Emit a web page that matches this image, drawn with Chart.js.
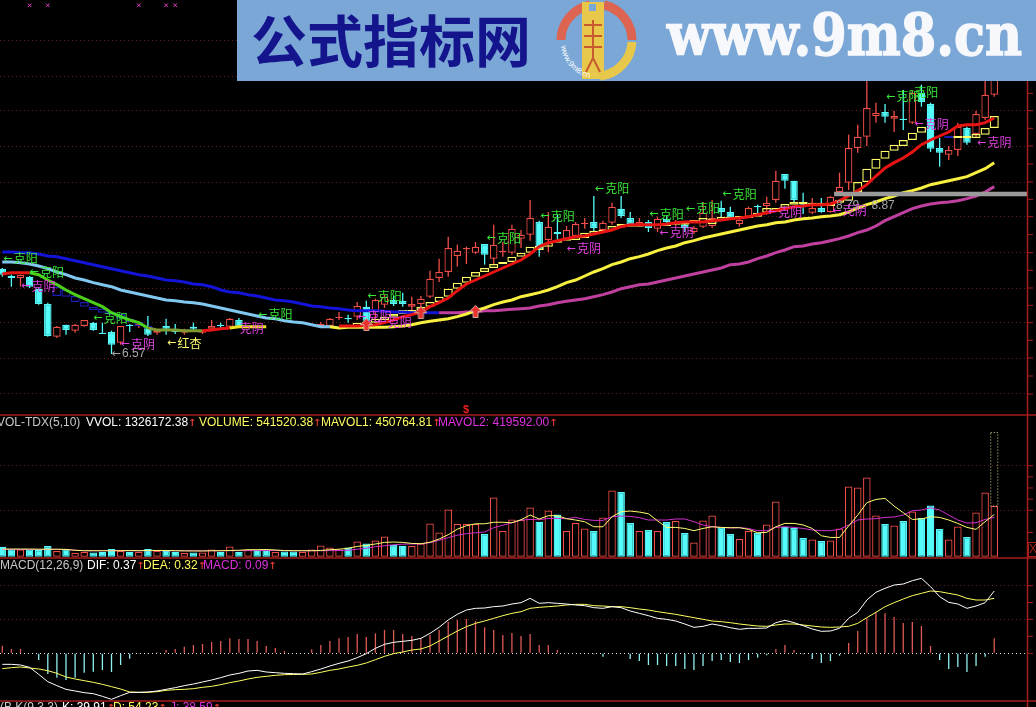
<!DOCTYPE html>
<html>
<head>
<meta charset="utf-8">
<title>9m8</title>
<script src="https://cdn.jsdelivr.net/npm/chart.js@4"></script>
<style>
html, body { margin: 0; padding: 0; background: #000; overflow: hidden; }
#wrap { position: relative; width: 1036px; height: 707px; }
#board { position: absolute; left: 0; top: 0; }
#banner { position: absolute; left: 237px; top: 0; width: 799px; height: 81px; background: #7ba7d7; }
</style>
</head>
<body>
<div id="wrap">
  <canvas id="board" width="1036" height="707"></canvas>
  <svg id="banner" viewBox="237 0 799 81" width="799" height="81">
    <text x="251" y="62" font-family="Noto Sans CJK SC" font-weight="700" font-size="56" fill="#14148c" textLength="280">公式指标网</text>
    <path d="M561 40 A36 36 0 0 1 590 5" fill="none" stroke="#dc6450" stroke-width="9"/>
    <path d="M604 5 A36 36 0 0 1 632 40" fill="none" stroke="#dc6450" stroke-width="9"/>
    <path d="M632 42 A36 36 0 0 1 600 76" fill="none" stroke="#e8c84a" stroke-width="9"/>
    <rect x="582" y="2" width="22" height="77" fill="#e8c84a"/>
    <rect x="589" y="4" width="7" height="7" fill="#7ba7d7"/>
    <path d="M584 25H602M584 36H602M584 47H602M593 20V60M586 72L593 58L600 72" stroke="#c85a30" stroke-width="2" fill="none"/>
    <path id="ringPath" d="M561 46 A37 37 0 0 0 590 78" fill="none"/>
    <text font-family="Liberation Sans" font-size="8" fill="#fff"><textPath href="#ringPath">www.9m8.cn</textPath></text>
    <text x="667" y="55" font-family="DejaVu Serif" font-weight="700" font-size="57" fill="#f6f8fb" stroke="#f6f8fb" stroke-width="1.5" textLength="355" lengthAdjust="spacingAndGlyphs">www.9m8.cn</text>
  </svg>
</div>
<script>
// -------------------------
// Price panel data (one entry per session, null where the picture shows no candle)
// -------------------------
const opens = [
  7.85,7.74,7.71,7.73,7.55,7.32,6.83,7.01,6.92,6.99,
  7.04,6.89,6.90,6.74,7.01,7.00,6.98,6.89,6.99,6.95,
  6.89,6.98,6.89,6.95,7.01,6.98,7.08,null,null,null,
  null,null,null,null,null,6.99,6.99,7.11,7.11,7.13,
  7.28,7.20,7.31,7.38,7.37,7.28,7.32,7.43,7.71,7.80,
  8.04,8.14,8.09,8.22,8.00,8.10,8.09,8.30,8.36,8.55,
  8.28,8.40,8.30,8.34,8.52,8.55,8.43,8.54,8.75,8.61,
  8.51,8.55,8.45,8.60,8.52,8.51,8.40,8.48,8.49,8.76,
  8.70,8.52,8.63,8.79,8.79,8.88,9.27,9.17,8.85,8.69,
  8.76,8.70,9.00,9.14,9.66,9.83,10.14,10.20,10.10,10.10,
  10.04,10.49,10.32,9.66,9.56,9.63,9.96,9.87,10.11,10.46
];
const closes = [
  7.76,7.71,7.76,7.58,7.32,6.84,6.98,6.93,7.01,7.08,
  6.93,6.87,6.71,6.99,6.99,7.02,6.86,6.92,6.95,6.90,
  6.92,6.95,6.92,6.99,6.99,7.10,6.98,null,null,null,
  null,null,null,null,null,7.02,7.10,7.13,7.09,7.29,
  7.07,7.38,7.43,7.32,7.32,7.32,7.40,7.70,7.80,8.16,
  8.12,8.16,8.18,8.06,8.21,8.12,8.45,8.36,8.61,8.13,
  8.48,8.37,8.43,8.52,8.54,8.46,8.54,8.78,8.64,8.52,
  8.55,8.46,8.60,8.55,8.55,8.46,8.46,8.69,8.61,8.70,
  8.61,8.58,8.76,8.77,8.84,9.17,9.17,8.88,8.81,8.76,
  8.70,8.93,9.08,9.66,9.83,10.26,10.19,10.13,10.14,10.08,
  10.49,10.35,9.65,9.59,9.63,9.98,9.74,10.17,10.46,10.98
];
const highs = [
  7.86,7.76,7.76,7.74,7.56,7.34,6.99,7.01,7.02,7.08,
  7.05,7.04,6.92,6.99,7.02,7.05,7.14,6.93,7.10,7.02,
  6.95,7.04,6.93,7.08,7.04,7.11,7.11,null,null,null,
  null,null,null,null,null,7.05,7.11,7.20,7.16,7.35,
  7.37,7.40,7.46,7.44,7.49,7.43,7.44,7.82,8.00,8.33,
  8.21,8.18,8.25,8.22,8.51,8.25,8.51,8.43,8.88,8.57,
  8.70,8.66,8.49,8.55,8.61,8.94,8.57,8.84,8.94,8.70,
  8.61,8.58,8.63,8.64,8.58,8.55,8.49,8.85,8.88,8.87,
  8.78,8.60,8.78,8.81,8.93,9.32,9.27,9.17,8.99,8.91,
  8.91,8.94,9.29,9.86,10.01,10.67,10.34,10.32,10.22,10.53,
  10.52,10.61,10.34,9.81,9.69,10.04,9.98,10.22,10.67,11.13
];
const lows = [
  7.73,7.58,7.58,7.56,7.31,6.83,6.81,6.86,6.89,6.98,
  6.92,6.87,6.57,6.71,6.90,6.96,6.84,6.86,6.86,6.87,
  6.86,6.93,6.87,6.93,6.93,6.96,6.96,null,null,null,
  null,null,null,null,null,6.98,6.98,7.08,7.04,7.08,
  7.01,7.04,7.26,7.29,7.28,7.20,7.23,7.41,7.65,7.73,
  7.88,7.92,8.07,7.91,7.91,8.03,8.06,8.16,8.27,8.03,
  8.10,8.28,8.28,8.31,8.45,8.40,8.42,8.51,8.61,8.49,
  8.48,8.40,8.40,8.51,8.49,8.40,8.37,8.46,8.46,8.61,
  8.60,8.48,8.61,8.66,8.66,8.84,9.05,8.84,8.67,8.67,
  8.69,8.69,8.96,9.03,9.59,9.69,10.04,10.04,9.90,9.93,
  10.02,10.28,9.60,9.38,9.48,9.54,9.71,9.83,10.08,10.43
];
// ladder boxes
const stepHigh = [
  null,null,null,null,null,null,7.58,7.53,7.44,7.35,
  7.28,7.25,7.20,7.17,7.10,7.05,6.99,null,null,null,
  null,null,null,null,null,null,null,null,null,null,
  null,null,null,null,null,null,null,null,7.01,7.04,
  7.05,7.10,7.13,7.17,7.23,7.23,7.28,7.35,7.43,7.55,
  7.64,7.73,7.80,7.86,7.92,7.95,8.03,8.09,8.18,8.19,
  8.24,8.27,8.30,8.33,8.39,8.42,8.43,8.49,8.52,8.52,
  8.52,8.52,8.52,8.52,8.54,8.54,8.58,8.61,8.60,8.63,
  8.63,8.64,8.64,8.69,8.76,8.76,8.82,8.85,8.85,8.84,
  8.84,8.84,8.88,9.00,9.15,9.35,9.50,9.62,9.71,9.78,
  9.89,9.98,null,null,9.84,9.84,9.84,9.87,9.96,10.14
];
const stepLow = [
  null,null,null,null,null,null,7.44,7.43,7.35,7.28,
  7.23,7.19,7.16,7.10,7.05,6.99,6.95,null,null,null,
  null,null,null,null,null,null,null,null,null,null,
  null,null,null,null,null,null,null,null,6.98,6.98,
  7.01,7.04,7.08,7.13,7.17,7.19,7.23,7.28,7.35,7.43,
  7.55,7.64,7.73,7.80,7.86,7.92,7.95,8.03,8.09,8.13,
  8.18,8.24,8.27,8.28,8.31,8.37,8.40,8.43,8.48,8.48,
  8.48,8.49,8.49,8.49,8.51,8.51,8.54,8.54,8.52,8.58,
  8.60,8.60,8.61,8.63,8.69,8.70,8.76,8.81,8.82,8.79,
  8.81,8.79,8.84,8.87,9.00,9.15,9.35,9.50,9.62,9.69,
  9.78,9.89,null,null,9.81,9.81,9.81,9.81,9.86,9.96
];
const fastLine = [
  7.77,7.79,7.79,7.79,7.76,7.68,7.61,7.53,7.46,7.40,
  7.34,7.28,7.19,7.13,7.08,7.04,6.96,6.93,6.93,6.93,
  6.92,6.92,6.92,6.93,6.95,6.96,6.98,6.98,6.98,6.98,
  null,null,null,null,null,null,null,6.99,6.99,6.99,
  7.00,7.01,7.04,7.08,7.13,7.16,7.20,7.28,7.34,7.41,
  7.52,7.62,7.68,7.74,7.80,7.86,7.92,7.98,8.07,8.18,
  8.24,8.27,8.30,8.33,8.34,8.37,8.40,8.43,8.48,8.51,
  8.51,8.51,8.51,8.52,8.54,8.55,8.55,8.55,8.57,8.58,
  8.60,8.61,8.63,8.66,8.69,8.72,8.75,8.78,8.79,8.81,
  8.81,8.82,8.87,8.94,9.02,9.11,9.24,9.36,9.44,9.51,
  9.60,9.71,9.78,9.84,9.90,9.99,10.01,10.01,10.04,10.11
];
const midLine = [
  7.95,7.95,7.94,7.92,7.89,7.85,7.80,7.76,7.71,7.68,
  7.64,7.61,7.58,7.53,7.50,7.47,7.44,7.41,7.38,7.37,
  7.35,7.34,7.32,7.29,7.26,7.23,7.20,7.17,7.14,7.11,
  7.10,7.07,7.05,7.04,7.01,6.98,6.98,6.96,6.97,6.97,
  6.97,6.97,6.97,6.98,6.99,7.01,7.04,7.06,7.08,7.10,
  7.13,7.17,7.22,7.26,7.31,7.35,7.38,7.43,7.46,7.49,
  7.53,7.58,7.64,7.68,7.74,7.80,7.85,7.91,7.95,8.00,
  8.03,8.07,8.12,8.16,8.19,8.24,8.27,8.31,8.34,8.37,
  8.40,8.43,8.46,8.49,8.51,8.54,8.55,8.58,8.60,8.61,
  8.63,8.64,8.66,8.70,8.76,8.81,8.85,8.90,8.94,8.99,
  9.02,9.06,9.11,9.14,9.17,9.20,9.23,9.29,9.35,9.44
];
const longLine = [
  8.10,8.10,8.09,8.09,8.07,8.04,8.03,8.00,7.97,7.94,
  7.91,7.88,7.85,7.82,7.79,7.76,7.74,7.71,7.68,7.67,
  7.65,7.62,7.61,7.58,7.53,7.50,7.49,7.46,7.44,7.41,
  7.38,7.37,7.35,7.32,7.29,7.28,7.26,7.25,7.23,7.22,
  7.22,7.22,7.21,7.20,7.20,7.19,7.19,7.19,7.19,7.19,
  7.19,7.20,7.20,7.22,7.22,7.23,7.24,7.25,7.26,7.29,
  7.31,7.34,7.36,7.38,7.40,7.43,7.46,7.50,7.55,7.58,
  7.61,7.62,7.65,7.68,7.71,7.74,7.77,7.80,7.83,7.86,
  7.91,7.92,7.95,8.00,8.04,8.09,8.13,8.18,8.19,8.22,
  8.24,8.27,8.30,8.34,8.39,8.43,8.49,8.57,8.63,8.69,
  8.75,8.79,8.82,8.84,8.85,8.87,8.90,8.94,9.00,9.08
];
const priceGrid = [5.97,6.51,7.04,7.56,8.09,8.63,9.15,9.69,10.22,10.74,11.28];
const bandPrice = 8.97;
const bandFrom = 91.4;
const arrowSessions = [40,46,52];
const arrowPrices = [7.01,7.19,7.21];
const crossSessions = [3,5,15,18,19];
const crossPrice = 11.8;
const gapDownSessions = [28,29,31,32];   // candles missing in the picture, colour taken from the volume bars
const navySessions = [6,7,8,9,10,11,12,13,14,15,16,104];

// -------------------------
// Volume panel data, in units of 10000
// -------------------------
const volumes = [
  10.7,8.2,7.8,7.8,7.2,11.4,6.1,8.2,4.3,5.0,
  4.6,5.3,8.2,6.1,5.3,5.3,8.2,6.4,6.4,5.3,
  4.0,4.6,4.6,7.8,5.3,11.0,5.3,7.5,7.5,7.5,
  5.0,5.7,5.7,5.3,7.8,12.1,9.9,7.8,9.9,16.3,
  14.2,17.4,21.7,12.5,11.7,11.4,14.2,35.6,26.0,50.5,
  34.9,34.9,34.9,24.2,63.3,27.4,39.8,39.2,52.7,37.4,
  49.4,45.2,27.4,36.0,30.2,27.4,42.0,70.8,69.1,36.0,
  27.4,28.5,27.4,37.1,38.1,25.3,15.3,38.8,44.1,31.3,
  24.2,18.9,27.4,25.3,34.5,59.1,32.0,30.7,20.0,18.5,
  16.8,17.4,30.2,75.1,74.0,84.7,44.1,34.9,33.4,38.1,
  48.4,41.3,54.8,29.6,18.5,32.4,21.0,47.3,68.7,54.15
];
const mavol1 = [
  8.2,8.2,8.2,8.2,8.0,8.0,8.0,7.8,6.9,6.4,
  6.4,6.4,6.4,6.4,6.6,6.4,6.7,6.7,6.7,6.4,
  6.2,6.2,6.1,6.4,6.4,6.7,6.9,7.5,7.5,7.7,
  7.2,6.6,6.4,6.4,6.4,6.7,7.5,8.0,9.1,11.0,
  12.1,13.6,15.3,15.7,15.3,14.2,13.9,15.5,18.9,23.5,
  29.4,33.1,35.2,35.2,36.8,36.8,36.3,39.5,44.5,40.3,
  43.8,43.8,40.6,39.2,37.4,32.0,32.0,42.7,48.1,48.8,
  47.7,45.9,38.4,31.3,31.3,30.2,27.8,30.2,32.0,31.3,
  31.0,31.0,29.2,25.6,26.0,32.0,35.6,35.6,33.9,30.2,
  22.4,20.6,20.6,32.8,44.5,57.7,61.2,62.3,54.1,47.0,
  39.8,40.3,42.7,42.0,39.2,35.6,31.3,29.2,37.4,45.08
];
const mavol2 = [
  7.8,7.8,7.8,7.8,7.8,7.8,7.8,7.8,6.9,6.4,
  6.4,6.4,6.5,6.5,6.4,6.4,6.5,6.5,6.4,6.4,
  6.4,6.3,6.3,6.4,6.4,6.4,6.5,6.5,6.6,6.6,
  6.6,6.5,6.5,6.4,6.4,6.4,6.5,6.6,6.9,8.0,
  9.1,10.7,11.7,12.8,13.4,13.6,13.6,15.0,17.6,20.3,
  23.0,24.6,25.6,26.4,31.0,33.6,36.3,39.2,39.8,39.5,
  40.9,40.9,40.6,42.0,39.8,38.8,38.8,42.7,43.5,43.0,
  41.7,39.2,39.2,39.2,40.3,40.3,37.4,33.9,32.0,31.3,
  30.7,31.0,30.2,27.8,27.8,31.3,32.0,31.3,30.2,28.5,
  27.8,27.8,29.2,33.9,39.2,40.3,40.6,42.0,42.4,44.5,
  49.1,49.9,52.3,49.9,44.5,39.2,36.0,36.3,39.8,41.96
];
const volGrid = [49.6,97.2];
const wvolLast = 132.6;

// -------------------------
// MACD panel data
// -------------------------
const macdBars = [
  .046,.026,.026,0,-.04,-.124,-.146,-.16,-.146,-.116,
  -.11,-.1,-.112,-.07,-.032,-.004,-.004,.006,.02,.026,
  .04,.05,.056,.068,.074,.09,.086,.086,.074,.044,
  .032,.014,0,0,.024,.05,.074,.09,.098,.116,
  .098,.12,.14,.14,.116,.104,.09,.11,.14,.19,
  .2,.206,.194,.156,.14,.11,.122,.104,.116,.05,
  .05,.02,.004,.004,0,-.006,-.02,0,0,-.034,
  -.046,-.07,-.07,-.076,-.076,-.094,-.1,-.076,-.046,-.04,
  -.052,-.058,-.04,-.026,-.012,.026,.05,.02,-.006,-.034,
  -.058,-.046,-.014,.062,.134,.21,.246,.24,.218,.182,
  .188,.164,.044,-.04,-.094,-.082,-.112,-.076,-.02,.09
];
const dif = [
  -.066,-.066,-.07,-.084,-.126,-.17,-.194,-.216,-.226,-.236,
  -.242,-.258,-.276,-.254,-.234,-.234,-.232,-.226,-.216,-.206,
  -.194,-.184,-.172,-.16,-.146,-.13,-.12,-.106,-.102,-.112,
  -.116,-.12,-.122,-.124,-.11,-.094,-.076,-.06,-.046,-.026,
  -.002,.03,.054,.066,.072,.078,.09,.12,.156,.2,
  .234,.26,.27,.272,.28,.284,.296,.304,.33,.3,
  .304,.3,.296,.29,.286,.274,.27,.28,.274,.254,
  .24,.226,.21,.204,.194,.176,.156,.162,.176,.166,
  .154,.144,.15,.15,.152,.184,.198,.184,.166,.146,
  .132,.134,.15,.21,.246,.32,.366,.39,.41,.416,
  .436,.45,.4,.34,.306,.296,.27,.284,.304,.374
];
const dea = [
  -.092,-.086,-.082,-.088,-.094,-.104,-.12,-.142,-.154,-.164,
  -.174,-.186,-.2,-.214,-.232,-.234,-.234,-.23,-.222,-.218,
  -.216,-.212,-.204,-.198,-.188,-.176,-.166,-.154,-.144,-.138,
  -.132,-.128,-.127,-.126,-.124,-.114,-.102,-.094,-.082,-.072,
  -.058,-.038,-.018,-.002,.008,.02,.026,.044,.074,.104,
  .134,.16,.18,.194,.21,.226,.24,.25,.27,.276,
  .28,.284,.29,.294,.294,.286,.284,.28,.28,.274,
  .266,.26,.25,.242,.234,.224,.214,.204,.194,.19,
  .184,.176,.17,.164,.162,.17,.176,.176,.17,.164,
  .158,.156,.158,.162,.18,.214,.246,.28,.304,.326,
  .346,.36,.374,.37,.36,.35,.33,.32,.32,.33
];
const macdGrid = [0,.204,.406];

// -------------------------
// Text notes on the price panel
// -------------------------
const GREEN = '#38e838', MAGENTA = '#e040e0', PALE = '#ffff70', GREY = '#a8a8a8';
const notes = [
  ['8.79', 91.6, 8.79, GREY], ['8.87', 95.5, 8.80, GREY], ['←6.57', 12, 6.57, GREY],
  ['←红杏', 18.1, 6.73, PALE],
  ['←克阳', 0.1, 8.00, GREEN], ['←克阳', 3, 7.80, GREEN], ['←克阳', 10, 7.11, GREEN],
  ['←克阳', 28.1, 7.16, GREEN], ['←克阳', 40.1, 7.44, GREEN], ['←克阳', 53.2, 8.31, GREEN],
  ['←克阳', 59.1, 8.64, GREEN], ['←克阳', 65.1, 9.05, GREEN], ['←克阳', 71.1, 8.67, GREEN],
  ['←克阳', 75.1, 8.75, GREEN], ['←克阳', 79.1, 8.97, GREEN], ['←克阳', 97.1, 10.43, GREEN],
  ['克阳', 100.2, 10.50, GREEN],
  ['←克阴', 2.05, 7.59, MAGENTA], ['←克阴', 13, 6.72, MAGENTA], ['克阴', 26.1, 6.96, MAGENTA],
  ['←克阴', 39, 7.13, MAGENTA], ['←克阴', 41.2, 7.05, MAGENTA], ['←克阴', 62, 8.15, MAGENTA],
  ['←克阴', 72.2, 8.39, MAGENTA], ['←克阴', 84.1, 8.70, MAGENTA], ['←克阴', 91.2, 8.72, MAGENTA],
  ['←克阴', 100.2, 10.02, MAGENTA], ['←克阴', 107.1, 9.74, MAGENTA]
];

// -------------------------
// Colours
// -------------------------
const RED = '#f04e48';
const CYAN = '#54fcfc';
const GRIDRED = '#641e1e';
const FRAME = '#a81c1c';

// -------------------------
// Helpers
// -------------------------
const isDown = i => opens[i] === null ? gapDownSessions.includes(i) : closes[i] < opens[i];
const points = values => values.map((v, i) => ({ x: i, y: v }));
const ranges = (a, b, keep) => a.map((v, i) => ({ x: i, y: [v, b[i]] })).filter(p => p.y[0] !== null && keep(p.x));
const columns = (values, keep) => values.map((v, i) => ({ x: i, y: v })).filter(p => keep(p.x));

function bars(data, yAxisID, thickness, color, fill, order) {
    return { type: 'bar', data, yAxisID, order, barThickness: thickness, grouped: false,
             backgroundColor: fill, borderColor: color, borderWidth: thickness > 2 ? 1.25 : 0,
             borderSkipped: false, inflateAmount: 0 };
}

function line(values, yAxisID, width, color, order, extra) {
    return Object.assign({ type: 'line', data: points(values), yAxisID, order, borderColor: color,
             borderWidth: width, pointRadius: 0, tension: 0, fill: false }, extra);
}

function sessionColor(list) {
    return ctx => list(ctx.p0DataIndex);
}

const fastColor = i => i < 3 ? '#e81414' : i < 16 ? '#4ccf18' : i < 22 ? '#7f9a30' : i < 25 ? '#e81414' : i < 37 ? '#f0e020' : '#e81414';

// up arrow marker
const arrowMark = document.createElement('canvas');
arrowMark.width = 13; arrowMark.height = 13;
(function () {
    const c = arrowMark.getContext('2d');
    c.beginPath();
    c.moveTo(6.5, 0.5); c.lineTo(12.5, 6.5); c.lineTo(9, 6.5); c.lineTo(9, 12.5);
    c.lineTo(4, 12.5); c.lineTo(4, 6.5); c.lineTo(0.5, 6.5); c.closePath();
    c.fillStyle = '#e8302c'; c.fill();
    c.strokeStyle = '#d8a8a0'; c.lineWidth = 1; c.stroke();
})();

// -------------------------
// Everything that is not a data mark: frame, legends, notes
// -------------------------
function text(ctx, str, x, y, color, font) {
    ctx.font = font || '12px "Liberation Sans"';
    ctx.fillStyle = color;
    ctx.textAlign = 'left';
    ctx.textBaseline = 'middle';
    ctx.fillText(str, x, y);
}

// legend entry with the small red rising mark right behind it
function entry(ctx, str, x, y, color) {
    text(ctx, str, x, y, color);
    const w = ctx.measureText(str).width;
    text(ctx, '↑', x + w, y, '#d83830', 'bold 10px "DejaVu Sans"');
}

const framePlugin = {
    id: 'frame',
    afterDatasetsDraw(chart) {
        const ctx = chart.ctx;
        const sx = chart.scales.x, sp = chart.scales.yPrice, sv = chart.scales.yVol, sm = chart.scales.yMacd;
        ctx.save();

        // forecast outline on the last volume bar
        const cx = sx.getPixelForValue(volumes.length - 1);
        ctx.setLineDash([1, 2]);
        ctx.strokeStyle = '#d8d890';
        ctx.lineWidth = 1;
        ctx.strokeRect(cx - 3.5, sv.getPixelForValue(wvolLast), 7, sv.getPixelForValue(volumes[volumes.length - 1]) - sv.getPixelForValue(wvolLast));
        ctx.setLineDash([]);

        // panel frame
        ctx.strokeStyle = FRAME;
        ctx.lineWidth = 1.5;
        [415, 558, 701].forEach(y => {
            ctx.beginPath(); ctx.moveTo(0, y); ctx.lineTo(1036, y); ctx.stroke();
        });
        ctx.beginPath(); ctx.moveTo(1027.5, 0); ctx.lineTo(1027.5, 707); ctx.stroke();

        // right side tick marks, every half grid step
        const marks = (scale, grid) => {
            grid.forEach((v, i) => {
                const list = [v];
                if (i < grid.length - 1) list.push((v + grid[i + 1]) / 2);
                list.forEach(t => {
                    const y = scale.getPixelForValue(t);
                    ctx.beginPath(); ctx.moveTo(1027, y); ctx.lineTo(1033, y); ctx.stroke();
                });
            });
        };
        ctx.lineWidth = 1;
        marks(sp, priceGrid);
        marks(sv, [49.6, 73.4, 97.2]);
        marks(sv, [25.8]);
        marks(sm, macdGrid);

        // close button at the panel corner
        ctx.strokeRect(1028.5, 542.5, 9, 14);
        text(ctx, 'X', 1029, 550, FRAME, '12px "Liberation Sans"');

        // notes: the arrow is narrower than the characters behind it
        const cjk = '12px "Noto Sans CJK SC"';
        notes.forEach(n => {
            const x = sx.getPixelForValue(n[1]), y = sp.getPixelForValue(n[2]);
            if (n[0][0] === '←') {
                text(ctx, '←', x, y, n[3], '11px "DejaVu Sans"');
                const rest = n[0].slice(1);
                text(ctx, rest, x + 10.5, y, n[3], /\d/.test(rest) ? '12px "Liberation Sans"' : cjk);
            } else if (/\d/.test(n[0])) {
                text(ctx, n[0], x, y, n[3]);
            } else {
                text(ctx, n[0], x, y, n[3], cjk);
            }
        });

        // marker above the volume panel
        text(ctx, '$', 463, 410, '#e82020', 'bold 11px "Liberation Sans"');

        // indicator legends
        text(ctx, 'VOL-TDX(5,10)', -3, 423, '#c8c8c8');
        entry(ctx, 'VVOL: 1326172.38', 86, 423, '#ffffff');
        entry(ctx, 'VOLUME: 541520.38', 199, 423, '#ffff60');
        entry(ctx, 'MAVOL1: 450764.81', 321, 423, '#ffff60');
        entry(ctx, 'MAVOL2: 419592.00', 438, 423, '#e030e0');

        text(ctx, 'MACD(12,26,9)', 0, 566, '#c8c8c8');
        entry(ctx, 'DIF: 0.37', 87, 566, '#ffffff');
        entry(ctx, 'DEA: 0.32', 143, 566, '#ffff60');
        entry(ctx, 'MACD: 0.09', 203, 566, '#e030e0');

        text(ctx, '(B,K(9,3,3)', 0, 708, '#c8c8c8');
        entry(ctx, 'K: 39.91', 62, 708, '#ffffff');
        entry(ctx, 'D: 54.23', 113, 708, '#ffff60');
        entry(ctx, 'J: 38.59', 170, 708, '#e030e0');

        ctx.restore();
    }
};

// -------------------------
// Chart: one area shared by three stacked panels, each with its own y scale
// -------------------------
function gridAxis(min, max, values, color) {
    return {
        axis: 'y', min, max, position: 'left',
        afterBuildTicks(scale) { scale.ticks = values.map(v => ({ value: v })); },
        ticks: { display: false },
        border: { display: false, dash: [1, 3] },
        grid: { color, drawTicks: false, lineWidth: 1 }
    };
}

const datasets = [
    // price panel
    bars(ranges(lows, highs, i => !isDown(i)), 'yPrice', 1.3, RED, RED, 30),
    bars(ranges(lows, highs, isDown), 'yPrice', 1.3, CYAN, CYAN, 30),
    bars(ranges(opens, closes, i => !isDown(i)), 'yPrice', 7.5, RED, '#000', 29),
    bars(ranges(opens, closes, isDown), 'yPrice', 7.5, CYAN, CYAN, 29),
    bars(ranges(stepLow, stepHigh, i => !navySessions.includes(i)), 'yPrice', 9.1, '#ffff66', 'rgba(0,0,0,0)', 28),
    bars(ranges(stepLow, stepHigh, i => navySessions.includes(i)), 'yPrice', 9.1, '#1c1cb8', 'rgba(0,0,0,0)', 28),
    line(longLine, 'yPrice', 3, '#1414d8', 27, { segment: { borderColor: sessionColor(i => i < 48 ? '#1414d8' : '#c040a0') } }),
    line(midLine, 'yPrice', 3, '#80c8f0', 26, { segment: { borderColor: sessionColor(i => i < 36 ? '#80c8f0' : '#f8f040') } }),
    line(fastLine, 'yPrice', 3, '#e81414', 25, { segment: { borderColor: sessionColor(fastColor) } }),
    { type: 'line', yAxisID: 'yPrice', order: 24, data: [{ x: bandFrom, y: bandPrice }, { x: 112.6, y: bandPrice }],
      borderColor: '#9a9a9a', borderWidth: 4.5, pointRadius: 0 },
    { type: 'line', yAxisID: 'yPrice', order: 23, showLine: false, data: arrowSessions.map((s, i) => ({ x: s, y: arrowPrices[i] })),
      pointStyle: arrowMark },
    { type: 'line', yAxisID: 'yPrice', order: 23, showLine: false, data: crossSessions.map(s => ({ x: s, y: crossPrice })),
      pointStyle: 'crossRot', pointRadius: 2.5, pointBorderColor: '#e040c0', pointBorderWidth: 1 },

    // volume panel
    bars(columns(volumes, i => !isDown(i)), 'yVol', 7.5, RED, '#000', 12),
    bars(columns(volumes, isDown), 'yVol', 7.5, CYAN, CYAN, 12),
    line(mavol2, 'yVol', 1, '#d030d0', 11),
    line(mavol1, 'yVol', 1, '#ffff70', 10),

    // MACD panel
    bars(columns(macdBars, i => macdBars[i] >= 0), 'yMacd', 1.3, '#e05a56', '#e05a56', 5),
    bars(columns(macdBars, i => macdBars[i] < 0), 'yMacd', 1.3, '#90f0f0', '#90f0f0', 5),
    line(dea, 'yMacd', 1, '#ffff60', 4),
    line(dif, 'yMacd', 1, '#ffffff', 3)
];

new Chart(document.getElementById('board').getContext('2d'), {
    type: 'bar',
    data: { datasets },
    plugins: [framePlugin],
    options: {
        responsive: false,
        animation: false,
        events: [],
        layout: { autoPadding: false, padding: { left: 0, top: 0, bottom: 0, right: 9 } },
        plugins: { legend: { display: false }, tooltip: { enabled: false } },
        scales: {
            // session 0 sits at 2.3px, sessions are 9.1px apart
            x: { type: 'linear', display: false, offset: false, min: -0.2527, max: 112.6, grid: { display: false } },
            // top of the canvas to its bottom, so the panels keep their place in the window
            yPrice: gridAxis(1.275, 11.88, priceGrid, GRIDRED),
            yVol: gridAxis(-160.5, 594.6, volGrid, GRIDRED),
            yMacd: gridAxis(-0.322, 3.92, macdGrid, ctx => ctx.tick.value === 0 ? '#e8e8e8' : GRIDRED)
        }
    }
});
</script>
</body>
</html>
